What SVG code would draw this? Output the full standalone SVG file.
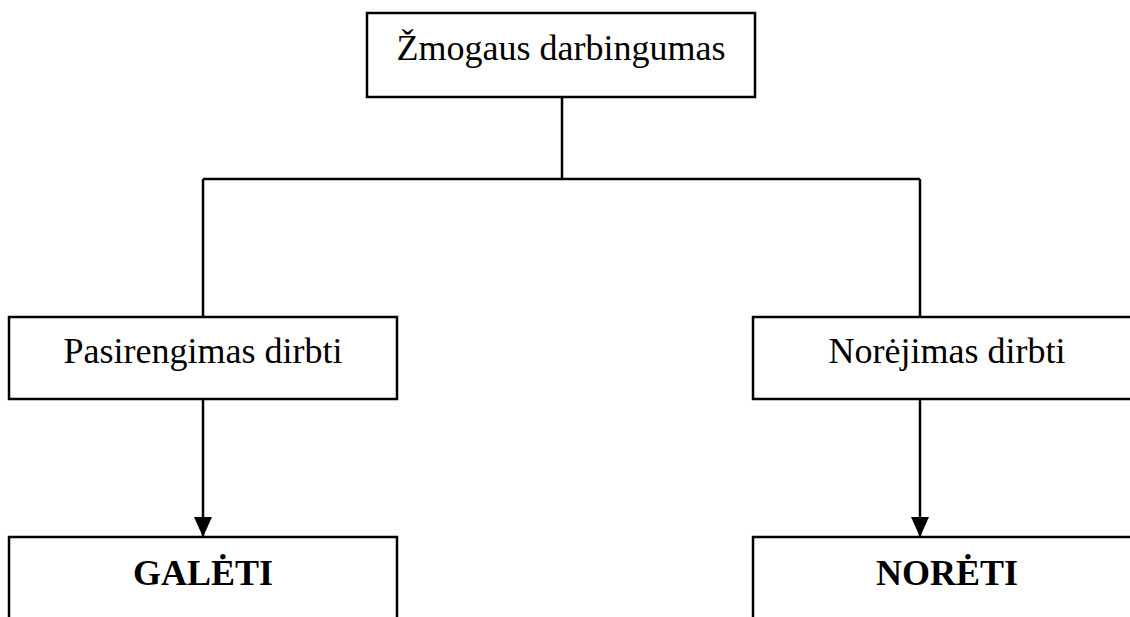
<svg xmlns="http://www.w3.org/2000/svg" width="1130" height="617" viewBox="0 0 1130 617">
<style>
.box{fill:#fff;stroke:#000;stroke-width:2.5}
.t{font-family:"Liberation Serif","Times New Roman",serif;font-size:36px;fill:#000;text-anchor:middle}
.b{font-weight:bold}
.c{fill:none;stroke:#000;stroke-width:2.5}
</style>
<defs>
<marker id="ah" markerUnits="userSpaceOnUse" markerWidth="20" markerHeight="18" refX="20" refY="9" orient="auto">
<path d="M0,0 L20,9 L0,18 Z" fill="#000"/>
</marker>
</defs>
<g id="connectors">
<path class="c" d="M562,97 V179 M203,179 H920 M203,179 V317 M920,179 V317"/>
<line class="c" x1="203" y1="399" x2="203" y2="537" marker-end="url(#ah)"/>
<line class="c" x1="920" y1="399" x2="920" y2="537" marker-end="url(#ah)"/>
</g>
<g id="node-top">
<rect class="box" x="367" y="13" width="388" height="84"/>
<text class="t" x="561" y="60">Žmogaus darbingumas</text>
</g>
<g id="node-pasirengimas">
<rect class="box" x="9" y="317" width="388" height="82"/>
<text class="t" x="203" y="363">Pasirengimas dirbti</text>
</g>
<g id="node-norejimas">
<rect class="box" x="753" y="317" width="390" height="82"/>
<text class="t" x="947" y="363">Norėjimas dirbti</text>
</g>
<g id="node-galeti">
<rect class="box" x="9" y="537" width="388" height="100"/>
<text class="t b" x="203" y="585">GALĖTI</text>
</g>
<g id="node-noreti">
<rect class="box" x="753" y="537" width="390" height="100"/>
<text class="t b" x="947" y="585">NORĖTI</text>
</g>
</svg>
